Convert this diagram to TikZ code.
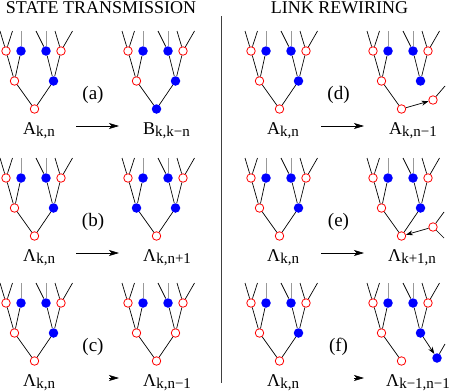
\documentclass[tikz,border=0pt]{standalone}
\usepackage{fontspec}
\setmainfont{Liberation Serif}
\usetikzlibrary{arrows.meta}
\newcommand\sub[1]{\raisebox{-2.5pt}{\fontsize{15}{15}\selectfont #1}}
\newcommand\tree[8]{%
 \node[#2] (#1-l1) at (6,51) {};
 \node[#3] (#1-l2) at (21,51) {};
 \node[#4] (#1-l3) at (46,51) {};
 \node[#5] (#1-l4) at (61,51) {};
 \node[#6] (#1-m1) at (14.5,81) {};
 \node[#7] (#1-m2) at (53.5,81) {};
 \node[#8] (#1-r) at (34.5,109) {};
 \coordinate (#1-t1) at (0,31);
 \coordinate (#1-t2) at (12.5,31);
 \coordinate (#1-t3) at (21,31);
 \coordinate (#1-t4) at (36,31);
 \coordinate (#1-t5) at (46,31);
 \coordinate (#1-t6) at (55,31);
 \coordinate (#1-t7) at (72.5,31);
 \draw[treeline] (#1-l1) -- (#1-t1) (#1-l1) -- (#1-t2) (#1-l3) -- (#1-t4) (#1-l4) -- (#1-t6) (#1-l4) -- (#1-t7);
 \draw[grayline] (#1-l2) -- (#1-t3) (#1-l3) -- (#1-t5);
 \draw[treeline] (#1-r) -- (#1-m1) (#1-m1) -- (#1-l1) (#1-m1) -- (#1-l2) (#1-m2) -- (#1-l3) (#1-m2) -- (#1-l4);
}
\begin{document}
\begin{tikzpicture}[x=1pt,y=-1pt,
 rnode/.style={circle,draw=red,fill=white,line width=0.8pt,minimum size=8.5pt,inner sep=0pt},
 bnode/.style={circle,fill=blue,draw=none,minimum size=9.5pt,inner sep=0pt},
 treeline/.style={line width=0.7pt,black},
 grayline/.style={line width=0.7pt,gray!80},
 bigarrow/.style={line width=0.7pt,-{Stealth[length=10pt,width=6pt,inset=2.5pt]}},
 smallarrow/.style={line width=0.7pt,-{Stealth[length=7pt,width=5pt]}},
 lab/.style={inner sep=0pt,anchor=base west,font=\fontsize{18}{18}\selectfont},
 title/.style={font=\fontsize{18}{18}\selectfont,inner sep=0pt,anchor=base},
 tag/.style={font=\fontsize{19}{19}\selectfont,inner sep=0pt}]
\useasboundingbox (0,0) rectangle (471,391);

\node[title] (t1) at (101,13) {STATE TRANSMISSION};
\node[title] (t2) at (339.5,13) {LINK REWIRING};
\coordinate (d1) at (221,16);
\coordinate (d2) at (221,383);
\draw[line width=0.8pt,black!75] (d1) -- (d2);

% row 1
\begin{scope}[shift={(0,0)}]
 \tree{aL}{rnode}{bnode}{bnode}{rnode}{rnode}{bnode}{rnode}
 \draw[treeline] (aL-r) -- (aL-m2);
\end{scope}
\begin{scope}[shift={(122,0)}]
 \tree{aR}{rnode}{bnode}{bnode}{rnode}{rnode}{bnode}{bnode}
 \draw[treeline] (aR-r) -- (aR-m2);
\end{scope}
\begin{scope}[shift={(245,0)}]
 \tree{dL}{rnode}{bnode}{bnode}{rnode}{rnode}{bnode}{rnode}
 \draw[treeline] (dL-r) -- (dL-m2);
\end{scope}
\begin{scope}[shift={(367,0)}]
 \tree{dR}{rnode}{bnode}{bnode}{rnode}{rnode}{bnode}{rnode}
 \node[rnode] (dR-x) at (66,100) {};
 \coordinate (dR-xt) at (78,86);
 \draw[treeline] (dR-x) -- (dR-xt);
 \draw[smallarrow] (dR-r) -- (dR-x);
\end{scope}

% row 2
\begin{scope}[shift={(0,127)}]
 \tree{bL}{rnode}{bnode}{bnode}{rnode}{rnode}{bnode}{rnode}
 \draw[treeline] (bL-r) -- (bL-m2);
\end{scope}
\begin{scope}[shift={(122,127)}]
 \tree{bR}{rnode}{bnode}{bnode}{rnode}{bnode}{bnode}{rnode}
 \draw[treeline] (bR-r) -- (bR-m2);
\end{scope}
\begin{scope}[shift={(245,127)}]
 \tree{eL}{rnode}{bnode}{bnode}{rnode}{rnode}{bnode}{rnode}
 \draw[treeline] (eL-r) -- (eL-m2);
\end{scope}
\begin{scope}[shift={(367,127)}]
 \tree{eR}{rnode}{bnode}{bnode}{rnode}{rnode}{bnode}{rnode}
 \draw[treeline] (eR-r) -- (eR-m2);
 \node[rnode] (eR-x) at (66,100) {};
 \coordinate (eR-xa) at (77,85);
 \coordinate (eR-xb) at (77,111);
 \draw[treeline] (eR-x) -- (eR-xa) (eR-x) -- (eR-xb);
 \draw[smallarrow] (eR-x) -- (eR-r);
\end{scope}

% row 3
\begin{scope}[shift={(0,252)}]
 \tree{cL}{rnode}{bnode}{bnode}{rnode}{rnode}{bnode}{rnode}
 \draw[treeline] (cL-r) -- (cL-m2);
\end{scope}
\begin{scope}[shift={(122,252)}]
 \tree{cR}{rnode}{bnode}{bnode}{rnode}{rnode}{rnode}{rnode}
 \draw[treeline] (cR-r) -- (cR-m2);
\end{scope}
\begin{scope}[shift={(245,252)}]
 \tree{fL}{rnode}{bnode}{bnode}{rnode}{rnode}{bnode}{rnode}
 \draw[treeline] (fL-r) -- (fL-m2);
\end{scope}
\begin{scope}[shift={(367,252)}]
 \tree{fR}{rnode}{bnode}{bnode}{rnode}{rnode}{bnode}{rnode}
 \node[bnode] (fR-x) at (70,106) {};
 \coordinate (fR-xt) at (78,92);
 \draw[treeline] (fR-x) -- (fR-xt);
 \draw[smallarrow] (fR-m2) -- (fR-x);
\end{scope}

% tags
\node[tag] (ta) at (93,95) {(a)};
\node[tag] (tb) at (93,222) {(b)};
\node[tag] (tc) at (93,347) {(c)};
\node[tag] (td) at (338.5,95) {(d)};
\node[tag] (te) at (338.5,222) {(e)};
\node[tag] (tf) at (338.5,347) {(f)};

% labels
\node[lab] (la1) at (23,134) {A\sub{k,n}};
\node[lab] (ra1) at (143,134) {B\sub{k,k−n}};
\node[lab] (la2) at (23,261) {Λ\sub{k,n}};
\node[lab] (ra2) at (143,261) {Λ\sub{k,n+1}};
\node[lab] (la3) at (23,386) {Λ\sub{k,n}};
\node[lab] (ra3) at (143,386) {Λ\sub{k,n−1}};
\node[lab] (ld1) at (267,134) {A\sub{k,n}};
\node[lab] (rd1) at (389,134) {A\sub{k,n−1}};
\node[lab] (ld2) at (267,261) {Λ\sub{k,n}};
\node[lab] (rd2) at (388,261) {Λ\sub{k+1,n}};
\node[lab] (ld3) at (267,386) {Λ\sub{k,n}};
\node[lab] (rd3) at (386,386) {Λ\sub{k−1,n−1}};

% arrows
\coordinate (a1s) at (76,126); \coordinate (a1e) at (119,126);
\coordinate (a2s) at (76,253); \coordinate (a2e) at (119,253);
\coordinate (a3s) at (109,378); \coordinate (a3e) at (119,378);
\coordinate (d1s) at (321,126); \coordinate (d1e) at (364,126);
\coordinate (d2s) at (321,253); \coordinate (d2e) at (364,253);
\coordinate (d3s) at (354,378); \coordinate (d3e) at (364,378);
\draw[bigarrow] (a1s) -- (a1e);
\draw[bigarrow] (a2s) -- (a2e);
\draw[bigarrow] (a3s) -- (a3e);
\draw[bigarrow] (d1s) -- (d1e);
\draw[bigarrow] (d2s) -- (d2e);
\draw[bigarrow] (d3s) -- (d3e);
\end{tikzpicture}
\end{document}
